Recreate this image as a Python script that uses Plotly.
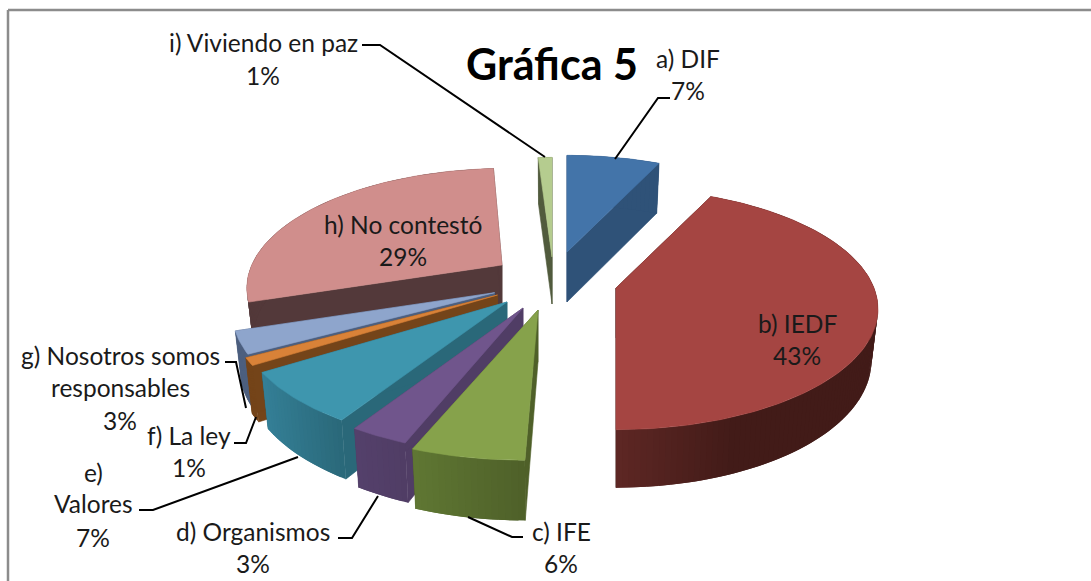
import math
import plotly.graph_objects as go

# ---------- data ----------
categories = ["a) DIF", "b) IEDF", "c) IFE", "d) Organismos", "e) Valores",
              "f) La ley", "g) Nosotros somos responsables", "h) No contestó",
              "i) Viviendo en paz"]
values = [7, 43, 6, 3, 7, 1, 3, 29, 1]
title_text = "Gráfica 5"

# ---------- styles ----------
top_colors = ["#4374A9", "#A54542", "#86A24B", "#70558C", "#3E96AE",
              "#D98238", "#8EA5CC", "#D08E8C", "#B5CC8F"]
wall_left = ["#2F5278", "#5E2724", "#5F7733", "#54406B", "#347F96",
             "#744419", "#4C5F7F", "#53393A", "#515B3D"]
wall_right = ["#2F5278", "#421B18", "#4F6029", "#503D65", "#2A6879",
              "#744419", "#4C5F7F", "#53393A", "#515B3D"]

# ---------- 3-D look: explosion and perspective of each slice ----------
apex_pos = [(567, 252), (616, 288), (538, 310), (523, 308), (507, 302),
            (497.5, 295), (494.6, 292.7), (502, 265), (552, 257)]
radius_scale = [0.97, 1.0, 1.06, 1.04, 1.02, 1.02, 1.0, 0.97, 1.0]
depth = [50, 50, 52, 52, 52, 52, 52, 50, 47]
skew = [0, 0, -0.087, 0, 0, 0, 0, -0.05, 0]
end_trim_deg = [0, 0, 1.3, 0, 0, 0, 0, 0, 0]
RX, RY, PERSP = 258, 117, 0.174
draw_order = [8, 7, 0, 6, 5, 4, 3, 2, 1]


def rim_point(i, theta):
    ax, ay = apex_pos[i]
    X, Y = math.sin(theta), math.cos(theta)
    s = radius_scale[i] / (1 + PERSP * Y)
    dy = -RY * Y * s
    dx = RX * X * s + skew[i] * dy
    return ax + dx, ay + dy, Y


def drop(i, x, y, Y):
    ax = apex_pos[i][0]
    d = depth[i] * (1 + 0.16 * max(0, -Y))
    return ax + (x - ax) * 0.975, y + d


def mix(c1, c2, t):
    a = [int(c1[k:k + 2], 16) for k in (1, 3, 5)]
    b = [int(c2[k:k + 2], 16) for k in (1, 3, 5)]
    return "#%02x%02x%02x" % tuple(round(p + (q - p) * t) for p, q in zip(a, b))


fig = go.Figure()


def poly(xs, ys, color, width=0.6):
    fig.add_trace(go.Scatter(x=xs + xs[:1], y=ys + ys[:1], mode="lines", fill="toself",
                             fillcolor=color, line=dict(color=color, width=width),
                             hoverinfo="skip", showlegend=False))


total = sum(values)
starts = [sum(values[:i]) / total * 2 * math.pi for i in range(len(values))]
ends = [sum(values[:i + 1]) / total * 2 * math.pi - math.radians(end_trim_deg[i])
        for i in range(len(values))]

for i in draw_order:
    n = max(6, int((ends[i] - starts[i]) / 0.02))
    thetas = [starts[i] + (ends[i] - starts[i]) * k / n for k in range(n + 1)]
    rim = [rim_point(i, t) for t in thetas]
    ax, ay = apex_pos[i]
    # inner faces
    for (x, y, Y) in (rim[0], rim[-1]):
        bx, by = drop(i, x, y, Y)
        poly([ax, x, bx, ax], [ay, y, by, ay + depth[i]], wall_right[i])
    # outer wall, painted as overlapping bands so no seams show
    xs_all = [p[0] for p in rim]
    lo, hi = min(xs_all), max(xs_all)
    base_x = [p[0] for p in rim]
    for k in range(n):
        x0, y0, Y0 = rim[k]
        x1, y1, Y1 = rim[min(k + 2, n)]
        b0 = drop(i, x0, y0, Y0)
        b1 = drop(i, x1, y1, Y1)
        t = ((x0 + rim[k + 1][0]) / 2 - lo) / max(hi - lo, 1)
        t = min(1, t / 0.45) if i == 1 else t
        poly([x0, x1, b1[0], b0[0]], [y0, y1, b1[1], b0[1]],
             mix(wall_left[i], wall_right[i], t), width=0)
    # top face
    poly([ax] + [p[0] for p in rim], [ay] + [p[1] for p in rim], top_colors[i])

# ---------- leader lines ----------
leaders = [
    [(362, 45), (380, 45), (545, 157)],
    [(615, 159), (658, 98), (670, 98)],
    [(468, 517), (512, 537), (523, 537)],
    [(378, 496), (352, 538), (338, 538)],
    [(298, 457), (153, 510), (139, 510)],
    [(256, 417), (246, 443), (234, 443)],
    [(225, 362), (236, 362), (246, 408)],
]
for pts in leaders:
    fig.add_trace(go.Scatter(x=[p[0] for p in pts], y=[p[1] for p in pts], mode="lines",
                             line=dict(color="#000000", width=2), hoverinfo="skip",
                             showlegend=False))

# ---------- labels ----------
FONT = "Lato, Carlito, Calibri, sans-serif"
labels = [
    (263, [(42, "i) Viviendo en paz"), (75, "1%")]),
    (688, [(58, "a) DIF"), (90, "7%")]),
    (797, [(323, "b) IEDF"), (355, "43%")]),
    (403, [(224, "h) No contestó"), (256, "29%")]),
    (120, [(355, "g) Nosotros somos"), (387, "responsables"), (420, "3%")]),
    (189, [(435, "f) La ley"), (467, "1%")]),
    (93, [(472, "e)"), (503, "Valores"), (537, "7%")]),
    (253, [(531, "d) Organismos"), (563, "3%")]),
    (561, [(531, "c) IFE"), (563, "6%")]),
]
annotations = []
for cx, rows in labels:
    for y, text in rows:
        annotations.append(dict(x=cx, y=y, text=text, showarrow=False, xanchor="center",
                                yanchor="middle", font=dict(family=FONT, size=24.5, color="#1A1A1A")))
annotations.append(dict(x=552, y=63, text="<b>%s</b>" % title_text, showarrow=False,
                        xanchor="center", yanchor="middle",
                        font=dict(family=FONT, size=43, color="#000000")))

# ---------- frame ----------
shapes = [dict(type="line", x0=x0, y0=y0, x1=x1, y1=y1,
               line=dict(color="#8C8C8C", width=2.5))
          for x0, y0, x1, y1 in [(8, 10, 8, 581), (8, 10, 1091, 10)]]

fig.update_layout(
    width=1091, height=581, margin=dict(l=0, r=0, t=0, b=0),
    paper_bgcolor="#FFFFFF", plot_bgcolor="#FFFFFF", showlegend=False,
    xaxis=dict(range=[0, 1091], visible=False, fixedrange=True),
    yaxis=dict(range=[581, 0], visible=False, fixedrange=True),
    annotations=annotations, shapes=shapes,
)
fig.write_html("out.html", config={"displayModeBar": False},
               post_script="document.body.style.margin='0';document.body.style.overflow='hidden';")
